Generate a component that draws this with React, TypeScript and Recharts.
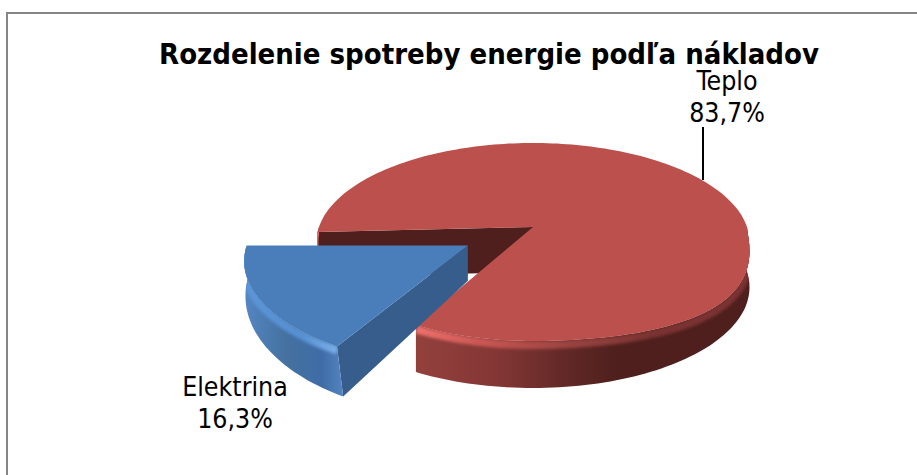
import React from 'react';
import { PieChart, Pie } from 'recharts';

const names = ['Teplo', 'Elektrina'];
const shares = [83.7, 16.3];
const chartTitle = 'Rozdelenie spotreby energie podľa nákladov';
const pieData = names.map((name, i) => ({ name, value: shares[i] }));

// flat look of the old Excel 3D pie: a homography on the pie plane
const FLATTEN = 0.452;
const PERSP = 0.1515;
const EXPLODE = 0.35;
const FONT = '"DejaVu Sans", sans-serif';

const looks: Record<string, any> = {
  Teplo: {
    top: '#bc504d',
    face: '#4e1f1d',
    depth: [45, 2],
    reach: 1,
    skew: 0,
    warp: 24,
    lean: 0,
    wall: [[0, '#93403d'], [0.25, '#823634'], [0.42, '#652a28'], [0.6, '#4e1f1d'], [1, '#4e1f1d']],
    rim: [[0, '#ec6f6a'], [0.2, '#c85552'], [0.45, '#9a4341'], [0.7, '#7a3331'], [1, '#7a3331']],
    span: [418, 752],
  },
  Elektrina: {
    top: '#4a7ebb',
    face: '#365d8b',
    depth: [32, 17],
    reach: 0.995,
    skew: 0.025,
    warp: 0,
    lean: 7,
    wall: [[0, '#5688c6'], [0.45, '#44719f'], [0.8, '#3f6ca6'], [1, '#5283bf']],
    rim: [[0, '#5b95d8'], [0.6, '#5690d2'], [1, '#7fb2ea']],
    span: [240, 342],
  },
};

const labelSpots: Record<string, number[]> = {
  Teplo: [727, 90],
  Elektrina: [235, 396],
};

const PieSlice3D = (props: any) => {
  const { cx, cy, outerRadius: R, startAngle, endAngle, name } = props;
  const look = looks[name];
  const a0 = -startAngle;
  const a1 = -endAngle;
  const mid = ((a0 + a1) / 2) * (Math.PI / 180);
  const ox = name === 'Elektrina' ? EXPLODE * Math.cos(mid) : 0;
  const oy = name === 'Elektrina' ? EXPLODE * Math.sin(mid) : 0;
  const tipX = cx + (R * ox) / (1 - PERSP * oy);

  const flatAt = (u: number, v: number) => {
    const w = 1 - PERSP * (v + oy);
    const x = cx + (R * (look.reach * u + ox)) / w;
    const y = cy + (R * FLATTEN * (look.reach * v + oy)) / w;
    return [x, y + (x - tipX) * look.skew];
  };
  const topAt = (u: number, v: number) => {
    const [x, y] = flatAt(u, v);
    const bulge = u > 0 && v > 0 ? look.warp * u * u * Math.sqrt(v) : 0;
    return [x, y + bulge];
  };
  const lowAt = (u: number, v: number) => {
    const [x, y] = flatAt(u, v);
    return [x + look.lean * Math.max(v, 0) * (u < 0 ? 1 : 0), y + look.depth[0] + look.depth[1] * (v + oy)];
  };
  const polar = (deg: number) => [Math.cos((deg * Math.PI) / 180), Math.sin((deg * Math.PI) / 180)];
  const pts = (list: number[][]) => list.map((p) => p[0].toFixed(1) + ' ' + p[1].toFixed(1));

  const steps: number[] = [];
  for (let a = a0; a < a1; a += 1.5) steps.push(a);
  steps.push(a1);

  const topArc = steps.map((a) => topAt(polar(a)[0], polar(a)[1]));
  const tip = topAt(0, 0);
  const topPath = 'M' + pts([tip, ...topArc]).join('L') + 'Z';

  const edge = polar(a0);
  const facePath =
    'M' + pts([tip, topAt(edge[0], edge[1]), lowAt(edge[0], edge[1]), lowAt(0, 0)]).join('L') + 'Z';

  const front = steps.filter((a) => polar(a)[1] > -0.02);
  const runs: number[][] = [];
  front.forEach((a, i) => {
    if (i > 0 && a - front[i - 1] < 2) runs[runs.length - 1].push(a);
    else runs.push([a]);
  });
  const wallPath = runs
    .map((run) => {
      const up = run.map((a) => topAt(polar(a)[0], polar(a)[1]));
      const down = run.map((a) => lowAt(polar(a)[0], polar(a)[1])).reverse();
      return 'M' + pts([...up, ...down]).join('L') + 'Z';
    })
    .join('');
  const rimPath = runs
    .map((run) => 'M' + pts(run.map((a) => {
      const p = topAt(polar(a)[0], polar(a)[1]);
      return [p[0], p[1] + 4];
    })).join('L'))
    .join('');

  const grad = (id: string, stops: any[]) => (
    <linearGradient id={id} gradientUnits="userSpaceOnUse" x1={look.span[0]} x2={look.span[1]} y1={0} y2={0}>
      {stops.map((s) => (
        <stop key={s[0]} offset={s[0]} stopColor={s[1]} />
      ))}
    </linearGradient>
  );

  return (
    <g>
      <defs>
        {grad('wall' + name, look.wall)}
        {grad('rim' + name, look.rim)}
        <filter id={'soft' + name} filterUnits="userSpaceOnUse" x={0} y={0} width={917} height={475}>
          <feGaussianBlur stdDeviation={1.6} />
        </filter>
        <clipPath id={'clip' + name}>
          <path d={wallPath} />
        </clipPath>
      </defs>
      <path d={facePath} fill={look.face} />
      <path d={wallPath} fill={'url(#wall' + name + ')'} />
      <g clipPath={'url(#clip' + name + ')'}>
        <path d={rimPath} fill="none" stroke={'url(#rim' + name + ')'} strokeWidth={8} filter={'url(#soft' + name + ')'} />
      </g>
      <path d={topPath} fill={look.top} />
    </g>
  );
};

const SliceLabel = ({ name, percent }: any) => {
  const [x, y] = labelSpots[name];
  const txt = (percent * 100).toFixed(1).replace('.', ',') + '%';
  return (
    <g>
      {name === 'Teplo' && <line x1={703} y1={127} x2={703} y2={180} stroke="#000" strokeWidth={2} />}
      <text x={x} y={y} textAnchor="middle" fontFamily={FONT} fontStretch="condensed" fontSize={26.5} fill="#000">
        <tspan x={x}>{name}</tspan>
        <tspan x={x} dy={32}>{txt}</tspan>
      </text>
    </g>
  );
};

export default function App() {
  return (
    <div style={{ position: 'fixed', left: 0, top: 0, width: 917, height: 475, background: '#fff', overflow: 'hidden' }}>
      <div style={{ position: 'absolute', left: 6, top: 12, width: 960, height: 520, border: '2px solid #868686' }} />
      <div style={{ position: 'absolute', left: 0, top: 0 }}>
        <PieChart width={917} height={475} margin={{ top: 0, right: 0, bottom: 0, left: 0 }}>
          <text x={489} y={64} textAnchor="middle" fontFamily={FONT} fontStretch="condensed" fontWeight="bold" fontSize={29} fill="#000">
            {chartTitle}
          </text>
          <Pie
            data={pieData}
            dataKey="value"
            nameKey="name"
            cx={533}
            cy={227}
            outerRadius={214}
            startAngle={-177}
            endAngle={-537}
            stroke="none"
            isAnimationActive={false}
            labelLine={false}
            label={SliceLabel}
            shape={PieSlice3D}
            activeShape={PieSlice3D}
            inactiveShape={PieSlice3D}
          />
        </PieChart>
      </div>
    </div>
  );
}
